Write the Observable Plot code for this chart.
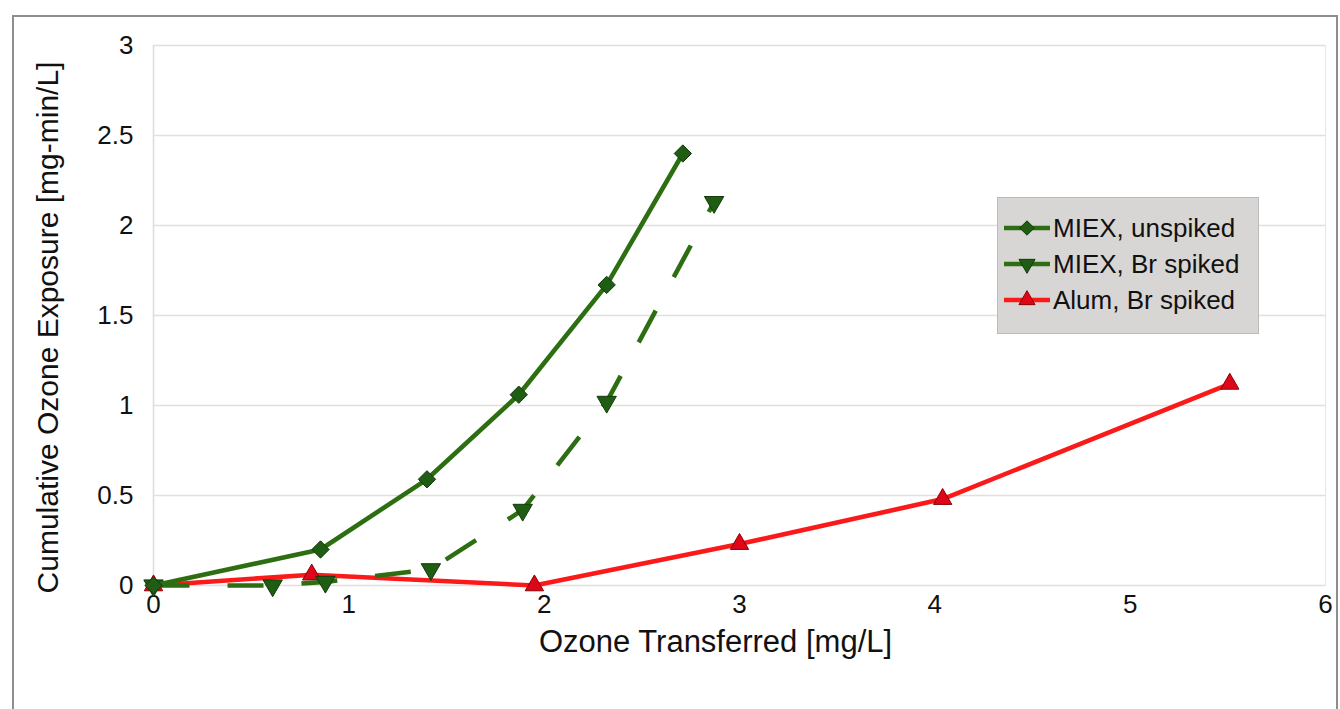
<!DOCTYPE html>
<html>
<head>
<meta charset="utf-8">
<script src="https://cdn.jsdelivr.net/npm/d3@7"></script>
<script src="https://cdn.jsdelivr.net/npm/@observablehq/plot@0.6"></script>
<style>
  html, body { margin: 0; padding: 0; background: #ffffff; }
  #wrap { position: relative; width: 1340px; height: 709px; overflow: hidden; font-family: Arial, "Liberation Sans", sans-serif; }
  #frame { position: absolute; left: 12px; top: 15px; width: 1326px; height: 720px; border: 2px solid #8e8e8e; box-sizing: border-box; pointer-events: none; }
  #legend { position: absolute; left: 997px; top: 197px; width: 262px; height: 137px; background: #d8d6d4; border: 1px solid #bdbbb9; box-sizing: border-box; padding-top: 12px; }
  .row { display: flex; align-items: center; height: 36px; padding-left: 6px; font-size: 26px; color: #111; white-space: nowrap; }
  .row svg { margin-right: 3px; }
</style>
</head>
<body>
<div id="wrap">
  <div id="chart"></div>
  <div id="frame"></div>
  <div id="legend"></div>
</div>
<script>
// Series names, in legend order
const seriesNames = ["MIEX, unspiked", "MIEX, Br spiked", "Alum, Br spiked"];

// Ozone transferred [mg/L] and cumulative ozone exposure [mg-min/L]
const miexUnspikedX = [0, 0.855, 1.40, 1.87, 2.32, 2.71];
const miexUnspikedY = [0, 0.20, 0.59, 1.06, 1.67, 2.40];

const miexBrX = [0, 0.61, 0.88, 1.42, 1.89, 2.32, 2.87];
const miexBrY = [0, 0.00, 0.02, 0.09, 0.42, 1.02, 2.13];

const alumBrX = [0, 0.81, 1.95, 3.00, 4.04, 5.51];
const alumBrY = [0, 0.06, 0.00, 0.23, 0.48, 1.12];

// Axis ticks
const xTicks = [0, 1, 2, 3, 4, 5, 6];
const yTicks = [0, 0.5, 1, 1.5, 2, 2.5, 3];

const xTitle = "Ozone Transferred [mg/L]";
const yTitle = "Cumulative Ozone Exposure [mg-min/L]";

const rows = (xs, ys) => xs.map((x, i) => ({x, y: ys[i]}));
const miexUnspiked = rows(miexUnspikedX, miexUnspikedY);
const miexBr = rows(miexBrX, miexBrY);
const alumBr = rows(alumBrX, alumBrY);

// Styles per series
const styles = [
  {line: "#2e6e12", fill: "#1f5c14", stroke: "#123a0a", symbol: "diamond2", rotate: 0, r: 7.8, dash: null},
  {line: "#2e6e12", fill: "#1f5c14", stroke: "#123a0a", symbol: "triangle", rotate: 180, r: 7.2, dash: "36,38"},
  {line: "#fb1a1a", fill: "#e0061a", stroke: "#8a0000", symbol: "triangle", rotate: 0, r: 6.8, dash: null}
];

function seriesMarks(data, s) {
  return [
    Plot.line(data, {x: "x", y: "y", stroke: s.line, strokeWidth: 4.6, strokeDasharray: s.dash, strokeLinecap: "butt", strokeLinejoin: "round"}),
    Plot.dot(data, {x: "x", y: "y", symbol: () => s.symbol, rotate: s.rotate, r: s.r, fill: s.fill, stroke: s.stroke, strokeWidth: 1})
  ];
}

const chart = Plot.plot({
  width: 1340,
  height: 709,
  marginLeft: 153,
  marginRight: 15,
  marginTop: 45,
  marginBottom: 124,
  style: {fontFamily: "Arial, 'Liberation Sans', sans-serif", fontSize: "26px", background: "transparent", color: "#111"},
  x: {domain: [0, 6]},
  y: {domain: [0, 3]},
  marks: [
    Plot.frame({stroke: "#e6e6e6"}),
    Plot.gridY(yTicks, {stroke: "#e0e0e0", strokeOpacity: 1, strokeWidth: 1.5}),
    Plot.ruleX([0], {stroke: "#dcdcdc", strokeWidth: 1.5}),
    Plot.axisX(xTicks, {tickSize: 0, tickPadding: 9, label: null, tickFormat: d => String(d)}),
    Plot.axisY(yTicks, {tickSize: 0, tickPadding: 20, label: null, tickFormat: d => String(d)}),
    ...seriesMarks(alumBr, styles[2]),
    ...seriesMarks(miexBr, styles[1]),
    ...seriesMarks(miexUnspiked, styles[0]),
    Plot.text([xTitle], {text: d => d, frameAnchor: "bottom", textAnchor: "middle", lineAnchor: "middle", dx: -24, dy: 57, fontSize: 31, fill: "#111"}),
    Plot.text([yTitle], {text: d => d, frameAnchor: "left", textAnchor: "middle", lineAnchor: "middle", rotate: -90, dx: -105, dy: 12, fontSize: 30, fill: "#111"})
  ]
});
document.getElementById("chart").appendChild(chart);

// Legend: line swatch with marker, then series name
const legend = document.getElementById("legend");
const symbolPaths = {
  "diamond2": d3.symbol(d3.symbolDiamond2, Math.PI * 6.5 * 6.5)(),
  "triangle": d3.symbol(d3.symbolTriangle, Math.PI * 6 * 6)()
};
seriesNames.forEach((name, i) => {
  const s = styles[i];
  const row = document.createElement("div");
  row.className = "row";
  row.innerHTML =
    `<svg width="46" height="20" viewBox="0 0 46 20">` +
    `<line x1="0" x2="46" y1="10" y2="10" stroke="${s.line}" stroke-width="4.6"></line>` +
    `<path d="${symbolPaths[s.symbol]}" transform="translate(23,10) rotate(${s.rotate})" fill="${s.fill}" stroke="${s.stroke}"></path>` +
    `</svg><span>${name}</span>`;
  legend.appendChild(row);
});
</script>
</body>
</html>
